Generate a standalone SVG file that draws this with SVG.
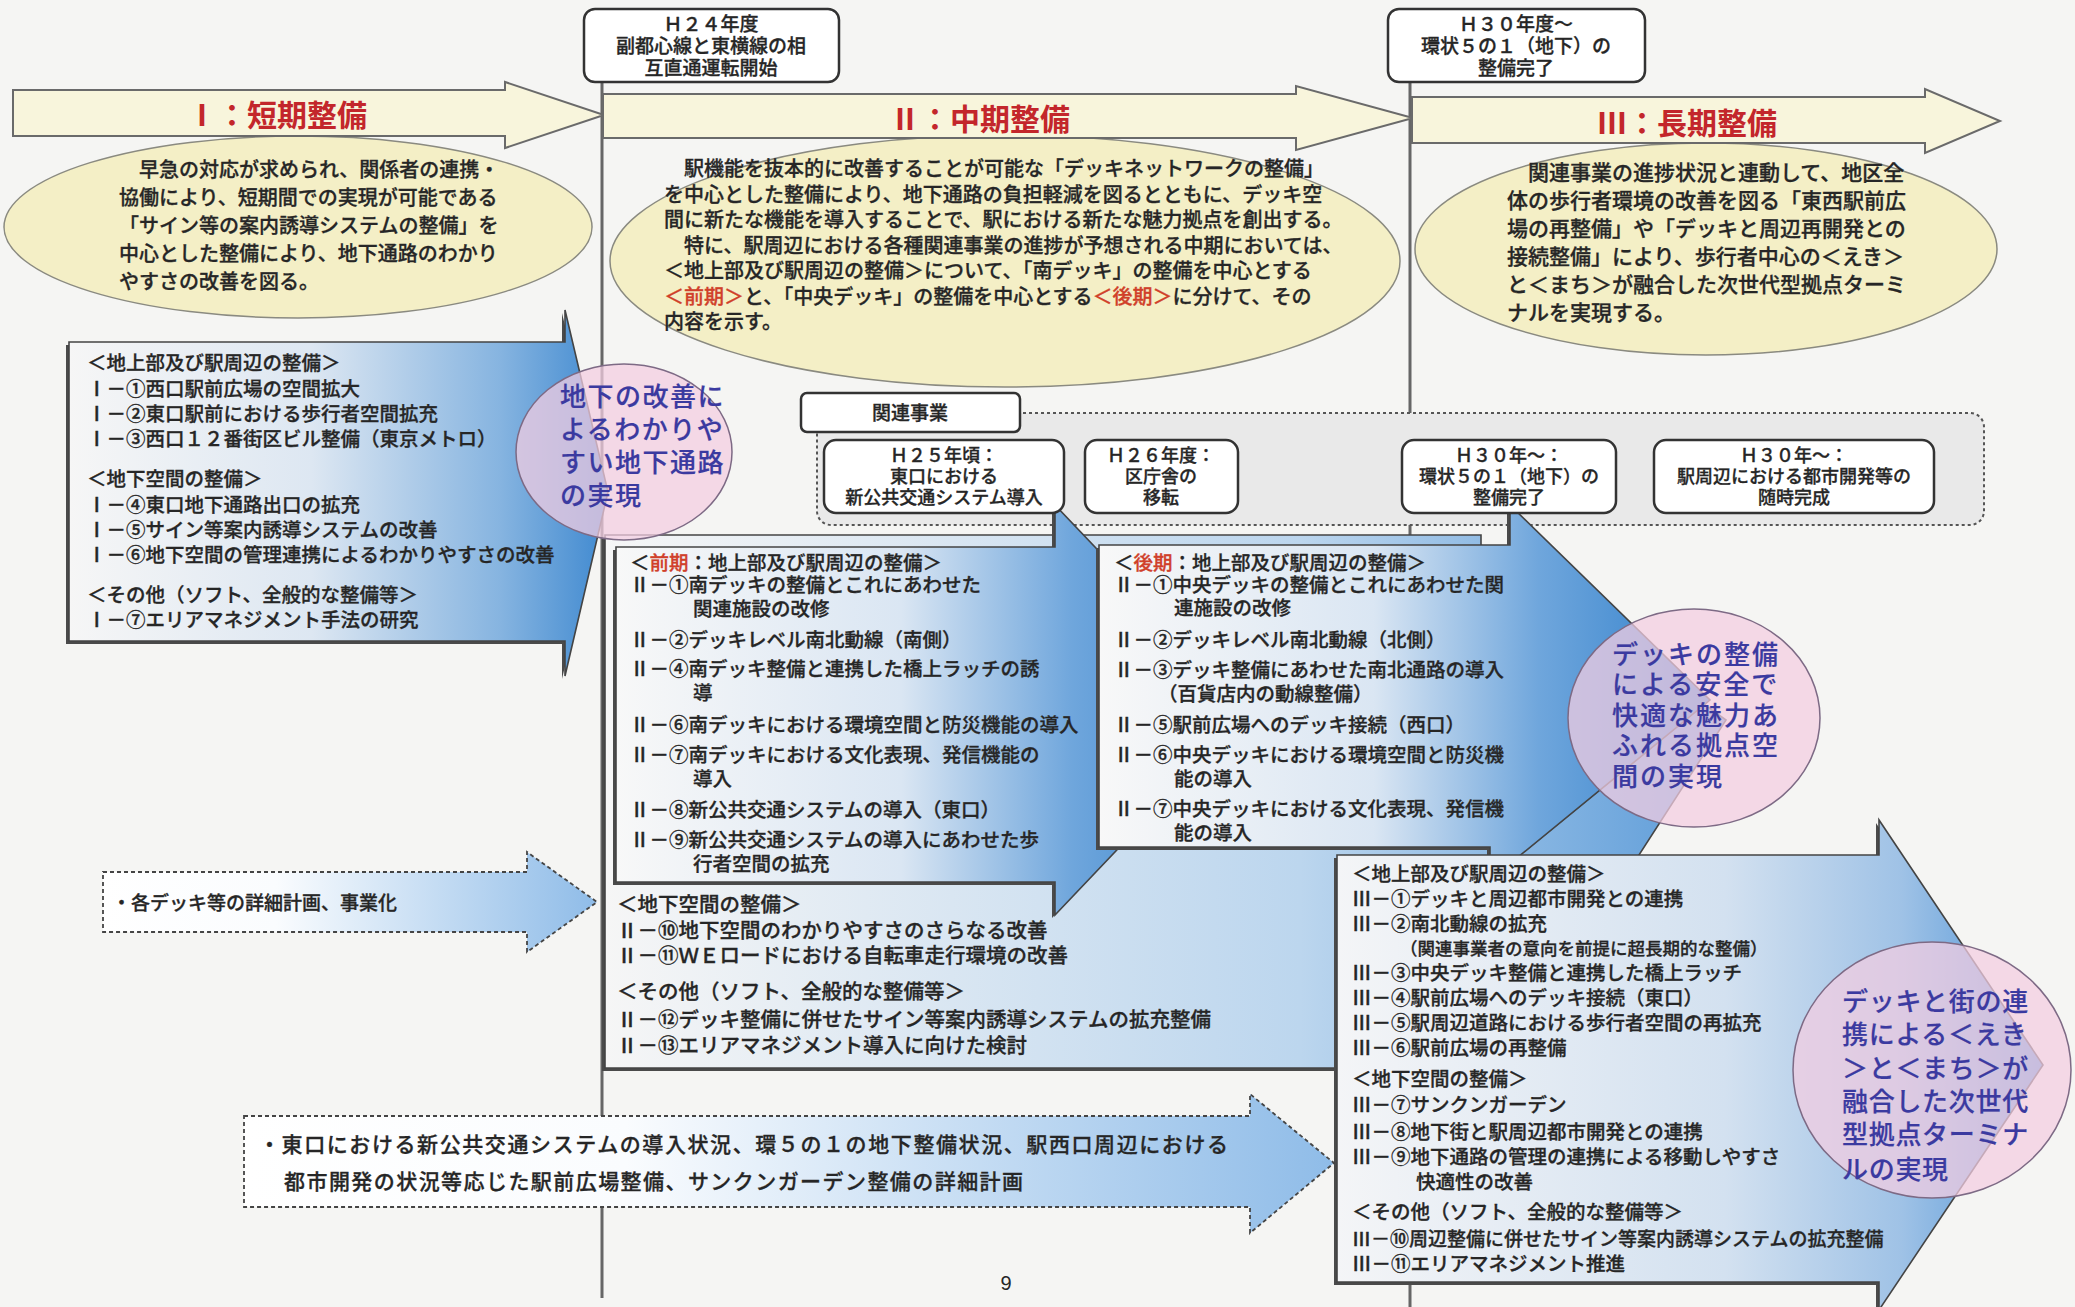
<svg xmlns="http://www.w3.org/2000/svg" width="2075" height="1307" viewBox="0 0 2075 1307">
<defs>
<style>
text{font-family:"Liberation Sans","Noto Sans CJK JP",sans-serif;fill:#262626;font-weight:500;stroke:#262626;stroke-width:.3}
.t{font-size:19.5px}
.t2{font-size:20.5px}
.el{font-size:20px}
.el3{font-size:21px}
.ttl{font-size:30px;font-weight:bold;fill:#c3262b;stroke:none}
.ms{font-size:19px}
.rs{font-size:18px}
.pk{font-size:26px;fill:#3b3aa0;stroke:#3b3aa0;stroke-width:.2}
.red{fill:#d0402a;stroke:#d0402a}
.ell{fill:#f4efc6;stroke:#8a8a80;stroke-width:1.5}
.hdr{fill:#f8f5dc;stroke:#6a6a6a;stroke-width:2}
.box{fill:#fff;stroke:#333;stroke-width:2.5}
.sh{fill:#4a4a4a}
.pink{fill:#f3cde1;fill-opacity:.74;stroke:#7d6a85;stroke-width:1.5}
.vl{stroke:#666;stroke-width:3;fill:none}
.bl{stroke:#444;stroke-width:1.6}
.dash{stroke:#444;stroke-width:1.8;stroke-dasharray:4 3}
</style>
<linearGradient id="gI" x1="0" y1="0" x2="1" y2="0">
<stop offset="0" stop-color="#f6f6f6"/><stop offset=".45" stop-color="#dde7f2"/><stop offset=".8" stop-color="#86b4e0"/><stop offset="1" stop-color="#3f89d0"/>
</linearGradient>
<linearGradient id="gP" x1="0" y1="0" x2="1" y2="0">
<stop offset="0" stop-color="#f8f8f8"/><stop offset=".45" stop-color="#dae6f3"/><stop offset=".72" stop-color="#6fa6dc"/><stop offset="1" stop-color="#2f7fcb"/>
</linearGradient>
<linearGradient id="gII" x1="0" y1="0" x2="1" y2="0">
<stop offset="0" stop-color="#f6f6f6"/><stop offset=".62" stop-color="#bcd6ee"/><stop offset="1" stop-color="#5a9ad8"/>
</linearGradient>
<linearGradient id="gIII" x1="0" y1="0" x2="1" y2="0">
<stop offset="0" stop-color="#f4f5f7"/><stop offset=".55" stop-color="#d3e1f0"/><stop offset=".8" stop-color="#9fc2e6"/><stop offset="1" stop-color="#4c92d6"/>
</linearGradient>
<linearGradient id="gD" x1="0" y1="0" x2="1" y2="0">
<stop offset="0" stop-color="#ffffff"/><stop offset=".35" stop-color="#fafcfe"/><stop offset="1" stop-color="#8fbce8"/>
</linearGradient>
</defs>
<rect width="2075" height="1307" fill="#f5f5f3"/>

<g id="connectors">
<path class="vl" d="M602,82 V1298"/>
<path class="vl" d="M1410,82 V1307"/>
</g>

<g id="ellipse-I">
<ellipse class="ell" cx="298" cy="227" rx="294" ry="91"/>
<text class="el"><tspan x="119" y="177">　早急の対応が求められ、関係者の連携・</tspan><tspan x="119" y="205">協働により、短期間での実現が可能である</tspan><tspan x="119" y="233">「サイン等の案内誘導システムの整備」を</tspan><tspan x="119" y="261">中心とした整備により、地下通路のわかり</tspan><tspan x="119" y="289">やすさの改善を図る。</tspan></text>
</g>
<g id="ellipse-II">
<ellipse class="ell" cx="1005" cy="261" rx="395" ry="126"/>
<text class="el"><tspan x="664" y="176">　駅機能を抜本的に改善することが可能な「デッキネットワークの整備」</tspan><tspan x="664" y="201.5">を中心とした整備により、地下通路の負担軽減を図るとともに、デッキ空</tspan><tspan x="664" y="227">間に新たな機能を導入することで、駅における新たな魅力拠点を創出する。</tspan><tspan x="664" y="252.5">　特に、駅周辺における各種関連事業の進捗が予想される中期においては、</tspan><tspan x="664" y="278">＜地上部及び駅周辺の整備＞について、「南デッキ」の整備を中心とする</tspan><tspan x="664" y="303.5"><tspan class="red">＜前期＞</tspan>と、「中央デッキ」の整備を中心とする<tspan class="red">＜後期＞</tspan>に分けて、その</tspan><tspan x="664" y="329">内容を示す。</tspan></text>
</g>
<g id="ellipse-III">
<ellipse class="ell" cx="1706" cy="249" rx="291" ry="106"/>
<text class="el3"><tspan x="1507" y="180">　関連事業の進捗状況と連動して、地区全</tspan><tspan x="1507" y="208">体の歩行者環境の改善を図る「東西駅前広</tspan><tspan x="1507" y="236">場の再整備」や「デッキと周辺再開発との</tspan><tspan x="1507" y="264">接続整備」により、歩行者中心の＜えき＞</tspan><tspan x="1507" y="292">と＜まち＞が融合した次世代型拠点ターミ</tspan><tspan x="1507" y="320">ナルを実現する。</tspan></text>
</g>

<g id="phase-I-header">
<path class="hdr" d="M13,90 H505 V82 L604,115 L505,148 V136 H13 Z"/>
<text class="ttl" x="277" y="126" text-anchor="middle">Ⅰ：短期整備</text>
</g>
<g id="phase-II-header">
<path class="hdr" d="M603,94 H1296 V86 L1413,118 L1296,150 V138 H603 Z"/>
<text class="ttl" x="980" y="130" text-anchor="middle">Ⅱ：中期整備</text>
</g>
<g id="phase-III-header">
<path class="hdr" d="M1412,97 H1925 V89 L2000,121 L1925,153 V143 H1412 Z"/>
<text class="ttl" x="1687" y="134" text-anchor="middle">Ⅲ：長期整備</text>
</g>

<g id="milestone-H24">
<rect class="box" x="584" y="9" width="255" height="73" rx="11"/>
<text class="ms" text-anchor="middle"><tspan x="711" y="31">Ｈ２４年度</tspan><tspan x="711" y="53">副都心線と東横線の相</tspan><tspan x="711" y="75">互直通運転開始</tspan></text>
</g>
<g id="milestone-H30">
<rect class="box" x="1388" y="9" width="257" height="73" rx="11"/>
<text class="ms" text-anchor="middle"><tspan x="1516" y="31">Ｈ３０年度～</tspan><tspan x="1516" y="53">環状５の１（地下）の</tspan><tspan x="1516" y="75">整備完了</tspan></text>
</g>

<g id="related-area">
<rect x="817" y="413" width="1167" height="112" rx="14" fill="#e9e9e9" stroke="#555" stroke-width="2" stroke-dasharray="3 3"/>
</g>

<g id="phase-II-box">
<path class="sh" transform="translate(-3,3)" d="M605,535 H1481 V545 L1726,720 L1481,1100 V1068 H605 Z"/>
<path class="bl" fill="url(#gII)" d="M605,535 H1481 V545 L1726,720 L1481,1100 V1068 H605 Z"/>
<text class="t2"><tspan x="617" y="912">＜地下空間の整備＞</tspan><tspan x="617" y="938">Ⅱ－⑩地下空間のわかりやすさのさらなる改善</tspan><tspan x="617" y="963">Ⅱ－⑪ＷＥロードにおける自転車走行環境の改善</tspan><tspan x="617" y="999">＜その他（ソフト、全般的な整備等＞</tspan><tspan x="617" y="1027">Ⅱ－⑫デッキ整備に併せたサイン等案内誘導システムの拡充整備</tspan><tspan x="617" y="1053">Ⅱ－⑬エリアマネジメント導入に向けた検討</tspan></text>
</g>

<g id="phase-II-early">
<path class="sh" transform="translate(-3,3)" d="M616,547 H1055 V505 L1250,710 L1055,915 V882 H616 Z"/>
<path class="bl" fill="url(#gP)" d="M616,547 H1055 V505 L1250,710 L1055,915 V882 H616 Z"/>
<text class="t"><tspan x="630" y="570">＜<tspan class="red">前期</tspan>：地上部及び駅周辺の整備＞</tspan><tspan x="630" y="592">Ⅱ－①南デッキの整備とこれにあわせた</tspan><tspan x="693" y="616">関連施設の改修</tspan><tspan x="630" y="647">Ⅱ－②デッキレベル南北動線（南側）</tspan><tspan x="630" y="676">Ⅱ－④南デッキ整備と連携した橋上ラッチの誘</tspan><tspan x="693" y="700">導</tspan><tspan x="630" y="732">Ⅱ－⑥南デッキにおける環境空間と防災機能の導入</tspan><tspan x="630" y="762">Ⅱ－⑦南デッキにおける文化表現、発信機能の</tspan><tspan x="693" y="786">導入</tspan><tspan x="630" y="817">Ⅱ－⑧新公共交通システムの導入（東口）</tspan><tspan x="630" y="847">Ⅱ－⑨新公共交通システムの導入にあわせた歩</tspan><tspan x="693" y="871">行者空間の拡充</tspan></text>
</g>

<g id="phase-II-late">
<path class="sh" transform="translate(-3,3)" d="M1099,545 H1510 V505 L1710,700 L1490,880 V847 H1099 Z"/>
<path class="bl" fill="url(#gP)" d="M1099,545 H1510 V505 L1710,700 L1490,880 V847 H1099 Z"/>
<text class="t"><tspan x="1114" y="570">＜<tspan class="red">後期</tspan>：地上部及び駅周辺の整備＞</tspan><tspan x="1114" y="592">Ⅱ－①中央デッキの整備とこれにあわせた関</tspan><tspan x="1174" y="615">連施設の改修</tspan><tspan x="1114" y="647">Ⅱ－②デッキレベル南北動線（北側）</tspan><tspan x="1114" y="677">Ⅱ－③デッキ整備にあわせた南北通路の導入</tspan><tspan x="1158" y="701">（百貨店内の動線整備）</tspan><tspan x="1114" y="732">Ⅱ－⑤駅前広場へのデッキ接続（西口）</tspan><tspan x="1114" y="762">Ⅱ－⑥中央デッキにおける環境空間と防災機</tspan><tspan x="1174" y="786">能の導入</tspan><tspan x="1114" y="816">Ⅱ－⑦中央デッキにおける文化表現、発信機</tspan><tspan x="1174" y="840">能の導入</tspan></text>
</g>

<g id="phase-III-box">
<path class="sh" transform="translate(-3,3)" d="M1337,855 H1879 V820 L2043,1065 L1879,1310 V1282 H1337 Z"/>
<path class="bl" fill="url(#gIII)" d="M1337,855 H1879 V820 L2043,1065 L1879,1310 V1282 H1337 Z"/>
<text class="t"><tspan x="1352" y="881">＜地上部及び駅周辺の整備＞</tspan><tspan x="1352" y="906">Ⅲ－①デッキと周辺都市開発との連携</tspan><tspan x="1352" y="931">Ⅲ－②南北動線の拡充</tspan><tspan x="1400" y="955" style="font-size:17.5px">（関連事業者の意向を前提に超長期的な整備）</tspan><tspan x="1352" y="980">Ⅲ－③中央デッキ整備と連携した橋上ラッチ</tspan><tspan x="1352" y="1005">Ⅲ－④駅前広場へのデッキ接続（東口）</tspan><tspan x="1352" y="1030">Ⅲ－⑤駅周辺道路における歩行者空間の再拡充</tspan><tspan x="1352" y="1055">Ⅲ－⑥駅前広場の再整備</tspan><tspan x="1352" y="1086">＜地下空間の整備＞</tspan><tspan x="1352" y="1112">Ⅲ－⑦サンクンガーデン</tspan><tspan x="1352" y="1139">Ⅲ－⑧地下街と駅周辺都市開発との連携</tspan><tspan x="1352" y="1164">Ⅲ－⑨地下通路の管理の連携による移動しやすさ</tspan><tspan x="1416" y="1189">快適性の改善</tspan><tspan x="1352" y="1219">＜その他（ソフト、全般的な整備等＞</tspan><tspan x="1352" y="1246" style="font-size:19px">Ⅲ－⑩周辺整備に併せたサイン等案内誘導システムの拡充整備</tspan><tspan x="1352" y="1271">Ⅲ－⑪エリアマネジメント推進</tspan></text>
</g>

<g id="related-label">
<rect class="box" x="801" y="393" width="219" height="39" rx="6" stroke-width="2"/>
<text x="910" y="420" text-anchor="middle" style="font-size:19px">関連事業</text>
</g>
<g id="related-H25">
<rect class="box" x="824" y="440" width="240" height="73" rx="12"/>
<text class="rs" text-anchor="middle"><tspan x="944" y="462">Ｈ２５年頃：</tspan><tspan x="944" y="483">東口における</tspan><tspan x="944" y="504">新公共交通システム導入</tspan></text>
</g>
<g id="related-H26">
<rect class="box" x="1085" y="440" width="153" height="73" rx="12"/>
<text class="rs" text-anchor="middle"><tspan x="1161" y="462">Ｈ２６年度：</tspan><tspan x="1161" y="483">区庁舎の</tspan><tspan x="1161" y="504">移転</tspan></text>
</g>
<g id="related-H30a">
<rect class="box" x="1402" y="440" width="214" height="73" rx="12"/>
<text class="rs" text-anchor="middle"><tspan x="1509" y="462">Ｈ３０年～：</tspan><tspan x="1509" y="483">環状５の１（地下）の</tspan><tspan x="1509" y="504">整備完了</tspan></text>
</g>
<g id="related-H30b">
<rect class="box" x="1654" y="440" width="280" height="73" rx="12"/>
<text class="rs" text-anchor="middle"><tspan x="1794" y="462">Ｈ３０年～：</tspan><tspan x="1794" y="483">駅周辺における都市開発等の</tspan><tspan x="1794" y="504">随時完成</tspan></text>
</g>

<g id="phase-I-box">
<path class="sh" transform="translate(-3,3)" d="M69,342 H565 V310 L608,492 L565,676 V641 H69 Z"/>
<path class="bl" fill="url(#gI)" d="M69,342 H565 V310 L608,492 L565,676 V641 H69 Z"/>
<text class="t"><tspan x="87" y="370">＜地上部及び駅周辺の整備＞</tspan><tspan x="87" y="396">Ⅰ－①西口駅前広場の空間拡大</tspan><tspan x="87" y="421">Ⅰ－②東口駅前における歩行者空間拡充</tspan><tspan x="87" y="446">Ⅰ－③西口１２番街区ビル整備（東京メトロ）</tspan><tspan x="87" y="486">＜地下空間の整備＞</tspan><tspan x="87" y="512">Ⅰ－④東口地下通路出口の拡充</tspan><tspan x="87" y="537">Ⅰ－⑤サイン等案内誘導システムの改善</tspan><tspan x="87" y="562">Ⅰ－⑥地下空間の管理連携によるわかりやすさの改善</tspan><tspan x="87" y="602">＜その他（ソフト、全般的な整備等＞</tspan><tspan x="87" y="627">Ⅰ－⑦エリアマネジメント手法の研究</tspan></text>
</g>

<g id="plan-deck">
<path class="dash" fill="url(#gD)" d="M103,872 H527 V852 L597,902 L527,952 V932 H103 Z"/>
<text class="ms" x="112" y="910">・各デッキ等の詳細計画、事業化</text>
</g>
<g id="plan-plaza">
<path class="dash" fill="url(#gD)" d="M244,1116 H1250 V1094 L1334,1163 L1250,1233 V1207 H244 Z"/>
<text x="259" y="1152" style="font-size:21px" textLength="969">・東口における新公共交通システムの導入状況、環５の１の地下整備状況、駅西口周辺における</text>
<text x="284" y="1189" style="font-size:21px" textLength="739">都市開発の状況等応じた駅前広場整備、サンクンガーデン整備の詳細計画</text>
</g>

<g id="goal-I">
<ellipse class="pink" cx="624" cy="452" rx="108" ry="88"/>
<text class="pk" letter-spacing="1.5"><tspan x="560" y="406">地下の改善に</tspan><tspan x="560" y="439">よるわかりや</tspan><tspan x="560" y="472">すい地下通路</tspan><tspan x="560" y="505">の実現</tspan></text>
</g>
<g id="goal-II">
<ellipse class="pink" cx="1694" cy="718" rx="126" ry="109"/>
<text class="pk" letter-spacing="2"><tspan x="1612" y="664">デッキの整備</tspan><tspan x="1612" y="694">による安全で</tspan><tspan x="1612" y="725">快適な魅力あ</tspan><tspan x="1612" y="755">ふれる拠点空</tspan><tspan x="1612" y="786">間の実現</tspan></text>
</g>
<g id="goal-III">
<ellipse class="pink" cx="1932" cy="1070" rx="139" ry="128"/>
<text class="pk" letter-spacing="0.7"><tspan x="1842" y="1011">デッキと街の連</tspan><tspan x="1842" y="1044">携による＜えき</tspan><tspan x="1842" y="1078">＞と＜まち＞が</tspan><tspan x="1842" y="1111">融合した次世代</tspan><tspan x="1842" y="1144">型拠点ターミナ</tspan><tspan x="1842" y="1179">ルの実現</tspan></text>
</g>

<text x="1006" y="1290" text-anchor="middle" style="font-family:'Liberation Sans',sans-serif;font-size:20px;stroke:none">9</text>
</svg>
